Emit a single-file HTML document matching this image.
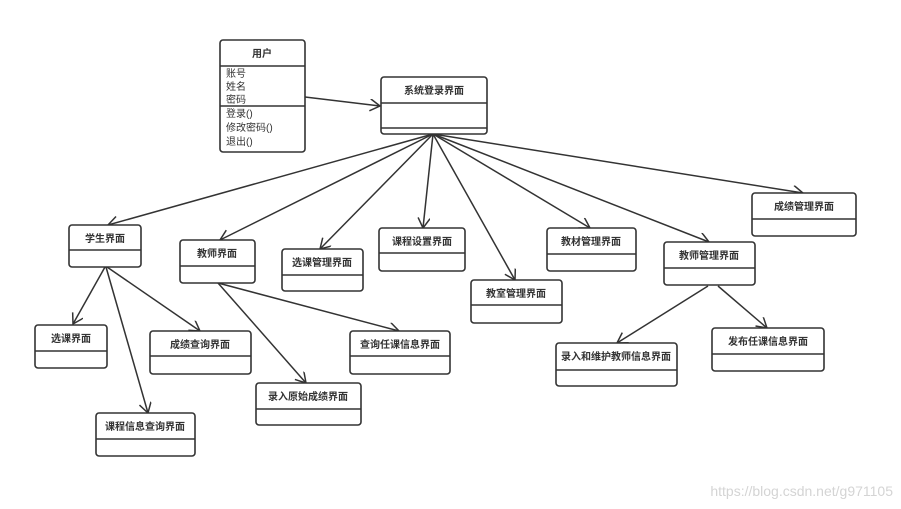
<!DOCTYPE html>
<html><head><meta charset="utf-8"><style>
html,body{margin:0;padding:0;background:#fff;}
svg{display:block;}
text{font-family:"Liberation Sans","Noto Sans CJK SC",sans-serif;fill:#333;}
.t{font-size:10px;font-weight:bold;text-anchor:middle;}
.a{font-size:10px;}
rect{fill:#fff;stroke:#333;stroke-width:1.6;}
.d{stroke:#333;stroke-width:1.6;}
.c{stroke:#333;stroke-width:1.5;fill:none;}
</style></head><body>
<svg width="901" height="509" viewBox="0 0 901 509" xmlns="http://www.w3.org/2000/svg">
<defs><marker id="m" markerWidth="14" markerHeight="14" refX="11" refY="6" orient="auto" markerUnits="userSpaceOnUse"><path d="M1,0 L11,6 L1,12" fill="none" stroke="#333" stroke-width="1.5"/></marker></defs>
<g class="c">
<line x1="305" y1="97" x2="380" y2="106" marker-end="url(#m)"/>
<line x1="433" y1="134" x2="108" y2="225" marker-end="url(#m)"/>
<line x1="433" y1="134" x2="220" y2="240" marker-end="url(#m)"/>
<line x1="433" y1="134" x2="320" y2="249" marker-end="url(#m)"/>
<line x1="433" y1="134" x2="423" y2="228" marker-end="url(#m)"/>
<line x1="433" y1="134" x2="515" y2="280" marker-end="url(#m)"/>
<line x1="433" y1="134" x2="590" y2="228" marker-end="url(#m)"/>
<line x1="433" y1="134" x2="709" y2="242" marker-end="url(#m)"/>
<line x1="433" y1="134" x2="803" y2="193" marker-end="url(#m)"/>
<line x1="105" y1="267" x2="73" y2="324" marker-end="url(#m)"/>
<line x1="106" y1="267" x2="148" y2="413" marker-end="url(#m)"/>
<line x1="107" y1="267" x2="200" y2="331" marker-end="url(#m)"/>
<line x1="218" y1="283" x2="306" y2="383" marker-end="url(#m)"/>
<line x1="218" y1="283" x2="399" y2="331" marker-end="url(#m)"/>
<line x1="708" y1="286" x2="617" y2="343" marker-end="url(#m)"/>
<line x1="718" y1="286" x2="767" y2="328" marker-end="url(#m)"/>
</g>
<rect x="220" y="40" width="85" height="112" rx="3"/>
<line class="d" x1="220" y1="66" x2="305" y2="66"/>
<line class="d" x1="220" y1="106" x2="305" y2="106"/>
<text class="t" x="262" y="57">用户</text>
<text class="a" x="226" y="77">账号</text>
<text class="a" x="226" y="90">姓名</text>
<text class="a" x="226" y="103">密码</text>
<text class="a" x="226" y="117">登录()</text>
<text class="a" x="226" y="131">修改密码()</text>
<text class="a" x="226" y="145">退出()</text>
<rect x="381" y="77" width="106" height="57" rx="3"/>
<line class="d" x1="381" y1="103" x2="487" y2="103"/>
<line class="d" x1="381" y1="128" x2="487" y2="128"/>
<text class="t" x="434" y="94">系统登录界面</text>
<g>
<rect x="69" y="225" width="72" height="42" rx="3"/><line class="d" x1="69" y1="250" x2="141" y2="250"/><text class="t" x="105" y="242">学生界面</text>
<rect x="180" y="240" width="75" height="43" rx="3"/><line class="d" x1="180" y1="266" x2="255" y2="266"/><text class="t" x="217" y="257">教师界面</text>
<rect x="282" y="249" width="81" height="42" rx="3"/><line class="d" x1="282" y1="275" x2="363" y2="275"/><text class="t" x="322" y="266">选课管理界面</text>
<rect x="379" y="228" width="86" height="43" rx="3"/><line class="d" x1="379" y1="253" x2="465" y2="253"/><text class="t" x="422" y="245">课程设置界面</text>
<rect x="471" y="280" width="91" height="43" rx="3"/><line class="d" x1="471" y1="305" x2="562" y2="305"/><text class="t" x="516" y="297">教室管理界面</text>
<rect x="547" y="228" width="89" height="43" rx="3"/><line class="d" x1="547" y1="254" x2="636" y2="254"/><text class="t" x="591" y="245">教材管理界面</text>
<rect x="664" y="242" width="91" height="43" rx="3"/><line class="d" x1="664" y1="268" x2="755" y2="268"/><text class="t" x="709" y="259">教师管理界面</text>
<rect x="752" y="193" width="104" height="43" rx="3"/><line class="d" x1="752" y1="219" x2="856" y2="219"/><text class="t" x="804" y="210">成绩管理界面</text>
<rect x="35" y="325" width="72" height="43" rx="3"/><line class="d" x1="35" y1="351" x2="107" y2="351"/><text class="t" x="71" y="342">选课界面</text>
<rect x="150" y="331" width="101" height="43" rx="3"/><line class="d" x1="150" y1="356" x2="251" y2="356"/><text class="t" x="200" y="348">成绩查询界面</text>
<rect x="96" y="413" width="99" height="43" rx="3"/><line class="d" x1="96" y1="439" x2="195" y2="439"/><text class="t" x="145" y="430">课程信息查询界面</text>
<rect x="256" y="383" width="105" height="42" rx="3"/><line class="d" x1="256" y1="409" x2="361" y2="409"/><text class="t" x="308" y="400">录入原始成绩界面</text>
<rect x="350" y="331" width="100" height="43" rx="3"/><line class="d" x1="350" y1="356" x2="450" y2="356"/><text class="t" x="400" y="348">查询任课信息界面</text>
<rect x="556" y="343" width="121" height="43" rx="3"/><line class="d" x1="556" y1="370" x2="677" y2="370"/><text class="t" x="616" y="360">录入和维护教师信息界面</text>
<rect x="712" y="328" width="112" height="43" rx="3"/><line class="d" x1="712" y1="354" x2="824" y2="354"/><text class="t" x="768" y="345">发布任课信息界面</text>
</g>
<text x="893" y="496" style="font-size:14px;fill:#d4d4d4;text-anchor:end;">https://blog.csdn.net/g971105</text>
</svg>
</body></html>
